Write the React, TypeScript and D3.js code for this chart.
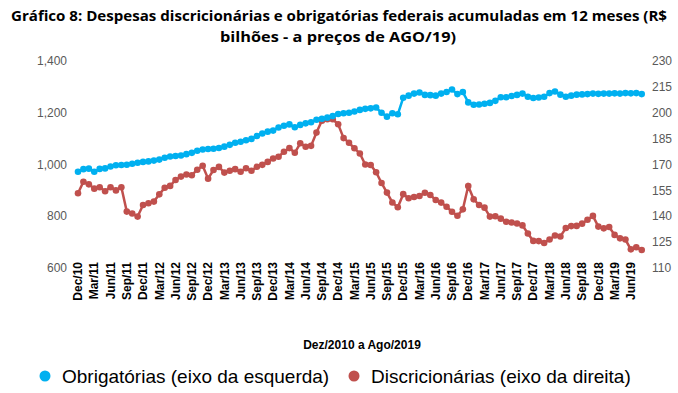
import { useRef, useEffect } from 'react';
import * as d3 from 'd3';

const W = 678;
const H = 393;
const BLUE = '#00B0F0';
const RED = '#C0504D';

// Dec/10 .. Aug/19, one value per month
const obrigatorias = [
  972, 982, 984, 972, 983, 985, 992, 997, 998, 999,
  1003, 1007, 1010, 1012, 1015, 1019, 1026, 1031, 1033, 1035,
  1040, 1045, 1053, 1058, 1060, 1061, 1064, 1069, 1076, 1084,
  1088, 1094, 1099, 1110, 1120, 1127, 1131, 1143, 1150, 1155,
  1144, 1153, 1159, 1163, 1173, 1177, 1181, 1187, 1195, 1198,
  1200, 1205, 1211, 1215, 1217, 1220, 1200, 1185, 1198, 1194,
  1258, 1266, 1274, 1278, 1269, 1268, 1266, 1274, 1280, 1290,
  1272, 1280, 1240, 1231, 1232, 1235, 1238, 1246, 1260, 1260,
  1265, 1269, 1274, 1262, 1257, 1259, 1262, 1276, 1282, 1270,
  1262, 1266, 1270, 1271, 1272, 1274, 1273, 1274, 1274, 1275,
  1274, 1276, 1275, 1276, 1272,
];

const discricionarias = [
  153.3, 160, 158.5, 156, 156.8, 154.5, 156.8, 155, 156.8, 142.7,
  141.6, 139.8, 146.5, 147.5, 148.5, 152.7, 156.5, 157.6, 161, 163,
  164.2, 163.8, 167, 169.3, 161.8, 166.8, 168.6, 165.3, 166.4, 167.3,
  165.8, 167.8, 166.4, 168.7, 169.8, 171.5, 173.5, 174.5, 177.4, 179.5,
  176.8, 182.3, 180.3, 180.8, 188.5, 195.4, 196.2, 196.2, 193.3, 185.3,
  182.6, 179.4, 176.4, 170, 169.7, 165.5, 159.3, 153.7, 148, 145.2,
  152.8, 150.4, 151.2, 151.7, 153.6, 152.3, 149.4, 147.9, 145.5, 142.6,
  140.3, 144, 157.5, 149.8, 146.5, 145, 139.8, 140, 138.6, 136.8,
  136.4, 135.8, 134.7, 130, 125.7, 125.6, 124.5, 126.5, 128.8, 128.3,
  133.2, 134.3, 134.4, 135.7, 138, 140.2, 134, 133, 133.8, 129.2,
  127.2, 126.5, 120.8, 122, 120.4,
];

// one label every third month, starting at Dec/10
const tickLabels = [
  'Dec/10', 'Mar/11', 'Jun/11', 'Sep/11', 'Dec/11', 'Mar/12', 'Jun/12', 'Sep/12',
  'Dec/12', 'Mar/13', 'Jun/13', 'Sep/13', 'Dec/13', 'Mar/14', 'Jun/14', 'Sep/14',
  'Dec/14', 'Mar/15', 'Jun/15', 'Sep/15', 'Dec/15', 'Mar/16', 'Jun/16', 'Sep/16',
  'Dec/16', 'Mar/17', 'Jun/17', 'Sep/17', 'Dec/17', 'Mar/18', 'Jun/18', 'Sep/18',
  'Dec/18', 'Mar/19', 'Jun/19',
];

const leftTicks = [600, 800, 1000, 1200, 1400];
const rightTicks = [110, 125, 140, 155, 170, 185, 200, 215, 230];

export default function App() {
  const svgRef = useRef<SVGSVGElement | null>(null);

  useEffect(() => {
    if (!svgRef.current) return;
    const svg = d3.select(svgRef.current);
    svg.selectAll('*').remove();

    svg.append('rect').attr('width', W).attr('height', H).attr('fill', '#fff');

    const x = d3.scaleLinear().domain([0, obrigatorias.length - 1]).range([78, 641.7]);
    const yL = d3.scaleLinear().domain([600, 1400]).range([268, 61]);
    const yR = d3.scaleLinear().domain([110, 230]).range([268, 61]);

    // Title
    const title = svg.append('g')
      .attr('font-family', 'Open Sans, sans-serif')
      .attr('font-weight', 700)
      .attr('font-size', 15)
      .attr('fill', '#000')
      .attr('text-anchor', 'middle');
    title.append('text')
      .attr('x', 339).attr('y', 21)
      .attr('textLength', 656).attr('lengthAdjust', 'spacingAndGlyphs')
      .text('Gráfico 8: Despesas discricionárias e obrigatórias federais acumuladas em 12 meses (R$');
    title.append('text')
      .attr('x', 338).attr('y', 42)
      .attr('textLength', 236).attr('lengthAdjust', 'spacingAndGlyphs')
      .text('bilhões - a preços de AGO/19)');

    // Left axis labels
    svg.append('g')
      .attr('font-family', 'Liberation Sans, Arial, sans-serif')
      .attr('font-size', 12)
      .attr('fill', '#595959')
      .attr('text-anchor', 'end')
      .selectAll('text')
      .data(leftTicks)
      .join('text')
      .attr('x', 67)
      .attr('y', d => yL(d))
      .attr('dy', '0.35em')
      .text(d => d3.format(',')(d));

    // Right axis labels
    svg.append('g')
      .attr('font-family', 'Liberation Sans, Arial, sans-serif')
      .attr('font-size', 12)
      .attr('fill', '#595959')
      .attr('text-anchor', 'start')
      .selectAll('text')
      .data(rightTicks)
      .join('text')
      .attr('x', 652)
      .attr('y', d => yR(d))
      .attr('dy', '0.35em')
      .text(d => d);

    // X tick labels (rotated)
    svg.append('g')
      .attr('font-family', 'Liberation Sans, Arial, sans-serif')
      .attr('font-size', 12)
      .attr('font-weight', 700)
      .attr('fill', '#000')
      .attr('text-anchor', 'end')
      .selectAll('text')
      .data(tickLabels)
      .join('text')
      .attr('transform', (_d, i) => `translate(${x(i * 3)},262) rotate(-90)`)
      .attr('dy', '0.35em')
      .text(d => d);

    const lineL = d3.line<number>().x((_d, i) => x(i)).y(d => yL(d));
    const lineR = d3.line<number>().x((_d, i) => x(i)).y(d => yR(d));

    // Discricionárias (right axis)
    svg.append('path')
      .datum(discricionarias)
      .attr('d', lineR)
      .attr('fill', 'none')
      .attr('stroke', RED)
      .attr('stroke-width', 2.5);
    svg.append('g')
      .selectAll('circle')
      .data(discricionarias)
      .join('circle')
      .attr('cx', (_d, i) => x(i))
      .attr('cy', d => yR(d))
      .attr('r', 3.3)
      .attr('fill', RED);

    // Obrigatórias (left axis)
    svg.append('path')
      .datum(obrigatorias)
      .attr('d', lineL)
      .attr('fill', 'none')
      .attr('stroke', BLUE)
      .attr('stroke-width', 2.5);
    svg.append('g')
      .selectAll('circle')
      .data(obrigatorias)
      .join('circle')
      .attr('cx', (_d, i) => x(i))
      .attr('cy', d => yL(d))
      .attr('r', 3.3)
      .attr('fill', BLUE);

    // Axis title
    svg.append('text')
      .attr('x', 362).attr('y', 349)
      .attr('text-anchor', 'middle')
      .attr('font-family', 'Liberation Sans, Arial, sans-serif')
      .attr('font-size', 12)
      .attr('font-weight', 700)
      .attr('fill', '#000')
      .text('Dez/2010 a Ago/2019');

    // Legend
    const legend = [
      { label: 'Obrigatórias (eixo da esquerda)', color: BLUE, cx: 45, tx: 62 },
      { label: 'Discricionárias (eixo da direita)', color: RED, cx: 354, tx: 371 },
    ];
    const lg = svg.append('g')
      .attr('font-family', 'Liberation Sans, Arial, sans-serif')
      .attr('font-size', 19)
      .attr('fill', '#000');
    legend.forEach(l => {
      lg.append('circle').attr('cx', l.cx).attr('cy', 376).attr('r', 5.5).attr('fill', l.color);
      lg.append('text').attr('x', l.tx).attr('y', 383).text(l.label);
    });
  }, []);

  return (
    <svg
      ref={svgRef}
      width={W}
      height={H}
      style={{ position: 'absolute', left: 0, top: 0, display: 'block' }}
    />
  );
}
